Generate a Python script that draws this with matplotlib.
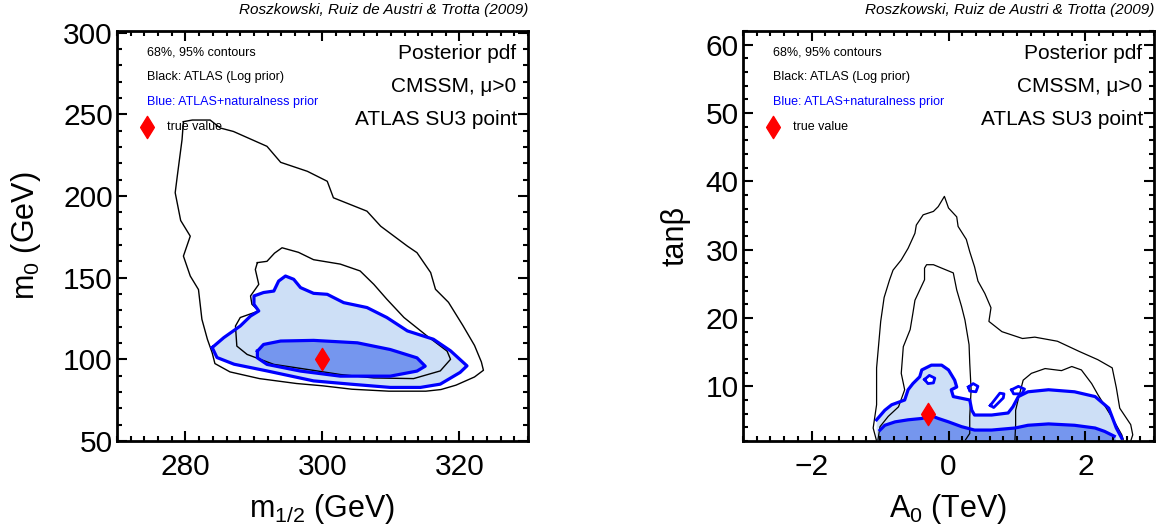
import numpy as np
import matplotlib
matplotlib.use('Agg')
import matplotlib.pyplot as plt
from matplotlib.ticker import MultipleLocator
from matplotlib.path import Path

plt.rcParams['font.family'] = ['Liberation Sans', 'DejaVu Sans']
plt.rcParams['mathtext.fontset'] = 'custom'
plt.rcParams['mathtext.rm'] = 'Liberation Sans'
plt.rcParams['mathtext.it'] = 'Liberation Sans:italic'

# ---- left panel: m_1/2 vs m_0 (GeV) ----
m12_true, m0_true = 300.0, 100.0

# black, ATLAS log prior, 95%
m12_atl95 = [279.7, 281.0, 283.6, 285.1, 287.0, 291.9, 293.9, 297.8, 300.7, 301.6, 306.5, 308.5,
             312.4, 313.8, 315.8, 316.5, 318.4, 320.5, 322.2, 323.2, 323.5, 322.2, 319.5, 317.3,
             315.1, 309.7, 304.3, 300.0, 296.2, 290.8, 286.5, 284.3, 283.9, 283.2, 282.4, 281.9,
             280.7, 279.7, 280.7, 279.3, 278.5, 278.8, 279.5, 279.7]
m0_atl95 = [245.5, 246.5, 246.5, 241.6, 239.5, 230.4, 220.6, 215.1, 209.0, 198.9, 190.7, 181.5,
            169.3, 165.3, 153.1, 142.9, 134.9, 120.7, 108.5, 98.4, 93.3, 89.2, 84.2, 81.5,
            80.5, 80.5, 81.7, 83.8, 85.2, 88.2, 92.3, 97.4, 104.0, 112.3, 124.5, 142.7,
            151.0, 163.2, 175.4, 185.0, 202.0, 212.0, 234.5, 245.5]

# black, ATLAS log prior, 68%
m12_atl68 = [290.5, 291.9, 293.0, 294.1, 296.5, 298.7, 302.6, 305.5, 307.5, 309.4, 311.9, 315.3,
             318.2, 318.7, 317.2, 313.3, 307.5, 302.6, 297.8, 292.9, 289.0, 287.5, 287.3, 288.0,
             290.7, 289.7, 289.5, 290.7, 290.2, 290.5]
m0_atl68 = [159.2, 160.0, 165.0, 168.3, 165.5, 161.0, 158.3, 154.1, 145.9, 136.8, 125.6, 114.2,
            105.0, 100.0, 92.9, 88.2, 88.6, 90.7, 93.8, 96.9, 103.0, 108.1, 120.4, 125.6,
            129.6, 133.7, 138.8, 145.9, 155.0, 159.2]

# blue, ATLAS + naturalness prior, 95%
m12_nat95 = [283.9, 285.6, 288.0, 289.5, 290.7, 290.0, 290.0, 291.4, 292.9, 293.6, 294.6, 295.8,
             296.8, 298.7, 300.7, 303.1, 306.5, 309.4, 312.4, 316.2, 318.7, 321.1, 320.1, 317.2,
             314.3, 309.9, 304.1, 298.7, 291.9, 287.1, 284.6, 283.9]
m0_nat95 = [107.2, 113.3, 120.4, 126.5, 129.6, 133.7, 138.8, 140.9, 141.8, 147.9, 151.0, 149.0,
            143.9, 140.4, 139.8, 134.7, 131.7, 125.6, 117.4, 112.3, 105.2, 96.0, 92.0, 84.8,
            82.8, 82.8, 84.8, 86.8, 92.9, 97.0, 101.1, 107.2]

# blue, ATLAS + naturalness prior, 68%
m12_nat68 = [290.5, 291.4, 293.9, 298.7, 305.1, 309.9, 313.8, 315.0, 313.8, 309.9, 302.6, 296.8,
             291.9, 290.5, 290.5]
m0_nat68 = [105.0, 109.1, 111.2, 111.6, 110.1, 106.0, 100.9, 95.8, 92.8, 89.7, 89.7, 92.8,
            96.9, 100.9, 105.0]

# ---- right panel: A_0 (TeV) vs tan beta ----
a0_true, tb_true = -0.3, 6.0

a0_atl95 = [-1.05, -1.10, -1.05, -1.05, -0.99, -0.94, -0.86, -0.81, -0.69, -0.59, -0.49, -0.47,
            -0.37, -0.22, -0.15, -0.06, 0.00, 0.12, 0.14, 0.26, 0.31, 0.38, 0.43, 0.53,
            0.62, 0.59, 0.78, 1.08, 1.26, 1.59, 1.91, 2.18, 2.39, 2.45, 2.50, 2.66, 2.69, 2.66]
tb_atl95 = [2.0, 3.9, 7.3, 12.7, 19.5, 23.0, 25.6, 27.0, 28.5, 30.2, 32.4, 33.6,
            35.1, 35.6, 36.3, 37.8, 36.1, 34.8, 33.4, 31.5, 29.7, 27.5, 25.4, 23.6,
            21.5, 19.5, 18.0, 17.0, 17.2, 16.6, 15.1, 13.9, 12.7, 9.8, 6.8, 4.4, 2.9, 2.0]

a0_atl68a = [-1.03, -1.00, -0.88, -0.73, -0.64, -0.69, -0.66, -0.56, -0.52, -0.49, -0.42, -0.35,
             -0.35, -0.32, -0.22, -0.10, 0.07, 0.09, 0.12, 0.19, 0.24, 0.30, 0.31, 0.33,
             0.31, 0.31, 0.25]
tb_atl68a = [2.2, 4.1, 5.6, 7.0, 9.5, 11.9, 15.8, 18.3, 20.7, 22.6, 24.1, 25.6,
             27.3, 27.8, 27.8, 27.3, 26.6, 25.6, 24.1, 21.7, 19.7, 16.1, 13.4, 9.5,
             5.6, 3.1, 2.2]

a0_atl68b = [0.97, 0.98, 0.98, 1.03, 1.09, 1.21, 1.41, 1.65, 1.80, 1.94, 2.09, 2.18, 2.39, 2.53, 2.55]
tb_atl68b = [2.2, 4.4, 6.5, 8.6, 10.9, 11.9, 12.6, 12.3, 12.9, 12.4, 10.4, 8.8, 5.4, 2.9, 2.2]

a0_nat95 = [-1.05, -1.05, -0.93, -0.83, -0.64, -0.59, -0.52, -0.42, -0.39, -0.25, -0.10, 0.00,
            0.09, 0.12, 0.04, 0.07, 0.31, 0.34, 0.38, 0.63, 0.87, 0.94, 1.02, 1.16,
            1.46, 1.84, 2.14, 2.34, 2.45, 2.53, 2.55]
tb_nat95 = [2.0, 5.1, 6.5, 7.3, 8.0, 9.5, 10.4, 11.4, 12.4, 13.1, 13.1, 12.4,
            10.9, 9.9, 9.5, 8.5, 8.0, 6.5, 5.8, 5.8, 6.1, 7.0, 8.5, 9.2,
            9.5, 9.2, 8.5, 6.8, 3.9, 2.4, 2.0]

a0_nat68 = [-1.03, -1.00, -0.93, -0.78, -0.59, -0.39, -0.25, -0.15, 0.00, 0.19, 0.38, 0.63,
            0.97, 1.16, 1.46, 1.84, 2.14, 2.28, 2.42, 2.45]
tb_nat68 = [2.0, 3.6, 4.3, 4.8, 5.1, 5.3, 5.7, 5.3, 4.8, 4.1, 3.6, 3.6,
            3.9, 4.3, 4.5, 4.3, 3.9, 3.4, 2.7, 2.0]

# small isolated 95% islands of the blue contour
islands_a0 = [[-0.35, -0.28, -0.20, -0.22, -0.30, -0.35],
              [0.29, 0.36, 0.43, 0.40, 0.31, 0.29],
              [0.61, 0.66, 0.80, 0.81, 0.75, 0.61],
              [0.92, 1.02, 1.11, 1.07, 0.95, 0.92]]
islands_tb = [[11.0, 11.6, 11.2, 10.5, 10.4, 11.0],
              [9.9, 10.4, 10.0, 9.2, 9.3, 9.9],
              [7.2, 6.9, 8.3, 8.9, 9.0, 7.2],
              [9.5, 10.0, 9.6, 8.9, 8.9, 9.5]]

LIGHT = '#cddff6'
DARK = '#7596ee'
BLUE = '#0000ff'
RED = '#ff0000'

diamond = Path([(0, 1), (0.62, 0), (0, -1), (-0.62, 0), (0, 1)],
               [Path.MOVETO, Path.LINETO, Path.LINETO, Path.LINETO, Path.CLOSEPOLY])


def style_axes(ax, xmaj, xmin, ymaj, ymin):
    ax.xaxis.set_major_locator(MultipleLocator(xmaj))
    ax.xaxis.set_minor_locator(MultipleLocator(xmin))
    ax.yaxis.set_major_locator(MultipleLocator(ymaj))
    ax.yaxis.set_minor_locator(MultipleLocator(ymin))
    ax.tick_params(which='both', direction='in', top=True, right=True, width=1.5)
    ax.tick_params(which='major', length=7, labelsize=21.5)
    ax.tick_params(which='minor', length=3.5)
    ax.tick_params(axis='x', pad=9)
    ax.tick_params(axis='y', pad=3)
    for s in ax.spines.values():
        s.set_linewidth(2)


def annotate(ax):
    tr = ax.transAxes
    ax.text(0.072, 0.947, '68%, 95% contours', transform=tr, fontsize=9, va='center')
    ax.text(0.072, 0.889, 'Black: ATLAS (Log prior)', transform=tr, fontsize=9, va='center')
    ax.text(0.072, 0.827, 'Blue: ATLAS+naturalness prior', transform=tr, fontsize=9,
            va='center', color=BLUE)
    ax.plot([0.072], [0.767], marker=diamond, color=RED, markersize=16, transform=tr,
            clip_on=False)
    ax.text(0.122, 0.767, 'true value', transform=tr, fontsize=9, va='center')
    ax.text(0.972, 0.944, 'Posterior pdf', transform=tr, fontsize=15, ha='right', va='center')
    ax.text(0.972, 0.864, 'CMSSM, μ>0', transform=tr, fontsize=15, ha='right', va='center')
    ax.text(0.975, 0.784, 'ATLAS SU3 point', transform=tr, fontsize=15, ha='right', va='center')
    ax.text(1.0, 1.051, 'Roszkowski, Ruiz de Austri & Trotta (2009)', transform=tr,
            fontsize=11, ha='right', va='center', style='italic')


fig = plt.figure(figsize=(11.57, 5.31), dpi=100)
ax1 = fig.add_axes([0.1011, 0.1695, 0.3552, 0.7721])
ax2 = fig.add_axes([0.6422, 0.1695, 0.3552, 0.7721])

# left panel
ax1.fill(m12_nat95, m0_nat95, color=LIGHT, lw=0)
ax1.fill(m12_nat68, m0_nat68, color=DARK, lw=0)
ax1.plot(m12_atl95, m0_atl95, color='k', lw=1.0)
ax1.plot(m12_atl68, m0_atl68, color='k', lw=1.0)
ax1.plot(m12_nat95, m0_nat95, color=BLUE, lw=2.3)
ax1.plot(m12_nat68, m0_nat68, color=BLUE, lw=2.3)
ax1.plot([m12_true], [m0_true], marker=diamond, color=RED, markersize=16, ls='none')
ax1.set_xlim(270, 330)
ax1.set_ylim(50, 301)
style_axes(ax1, 20, 2, 50, 10)
ax1.set_xlabel(r'm$_\mathregular{1/2}$ (GeV)', fontsize=22)
ax1.set_ylabel(r'm$_\mathregular{0}$ (GeV)', fontsize=22)
ax1.xaxis.set_label_coords(0.5, -0.125)
ax1.yaxis.set_label_coords(-0.18, 0.5)
annotate(ax1)

# right panel
ax2.fill(a0_nat95, tb_nat95, color=LIGHT, lw=0)
ax2.fill(a0_nat68, tb_nat68, color=DARK, lw=0)
ax2.plot(a0_atl95, tb_atl95, color='k', lw=0.9)
ax2.plot(a0_atl68a, tb_atl68a, color='k', lw=0.9)
ax2.plot(a0_atl68b, tb_atl68b, color='k', lw=0.9)
ax2.plot(a0_nat95[1:-1], tb_nat95[1:-1], color=BLUE, lw=2.3)
ax2.plot(a0_nat68[1:-1], tb_nat68[1:-1], color=BLUE, lw=2.3)
for xs, ys in zip(islands_a0, islands_tb):
    ax2.fill(xs, ys, color='white', lw=0)
    ax2.plot(xs, ys, color=BLUE, lw=2.0)
ax2.plot([a0_true], [tb_true], marker=diamond, color=RED, markersize=16, ls='none')
ax2.set_xlim(-3, 3)
ax2.set_ylim(2, 62)
style_axes(ax2, 2, 0.2, 10, 2)
ax2.set_xlabel(r'A$_\mathregular{0}$ (TeV)', fontsize=22)
ax2.set_ylabel('tanβ', fontsize=22)
ax2.xaxis.set_label_coords(0.5, -0.125)
ax2.yaxis.set_label_coords(-0.127, 0.5)
annotate(ax2)

fig.savefig('out.png', dpi=100)
